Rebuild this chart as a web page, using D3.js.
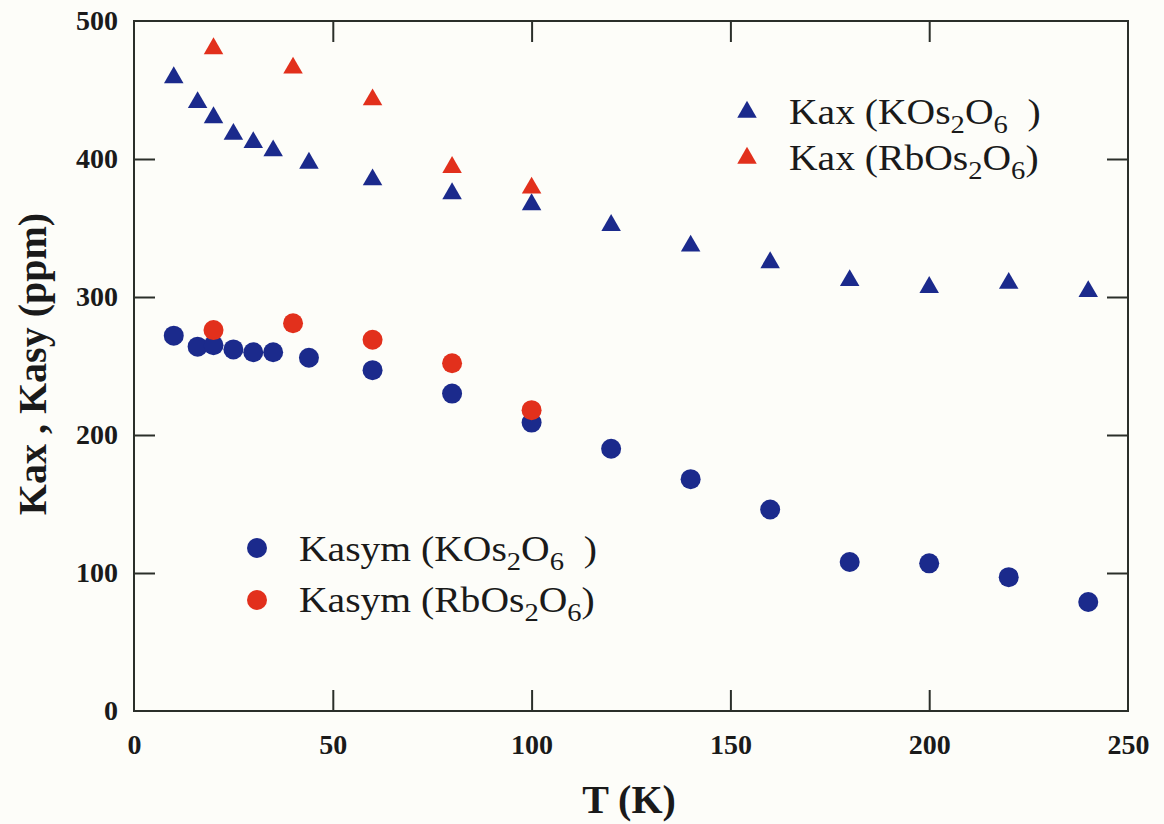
<!DOCTYPE html>
<html>
<head>
<meta charset="utf-8">
<script src="https://cdn.jsdelivr.net/npm/d3@7"></script>
<style>
  html, body { margin: 0; padding: 0; background: #fdfdf9; }
  svg { display: block; }
</style>
</head>
<body>
<svg id="chart" width="1164" height="824"></svg>
<script>
// Temperature points (K)
const tempK      = [10, 16, 20, 25, 30, 35, 44, 60, 80, 100, 120, 140, 160, 180, 200, 220, 240];
const kaxK       = [459, 441, 430, 418, 412, 406, 397, 385, 375, 367, 352, 337, 325, 312, 307, 310, 304];
const kasymK     = [272, 264, 265, 262, 260, 260, 256, 247, 230, 209, 190, 168, 146, 108, 107, 97, 79];

const tempRb     = [20, 40, 60, 80, 100];
const kaxRb      = [480, 466, 443, 394, 379];
const kasymRb    = [276, 281, 269, 252, 218];

const xTicks = [0, 50, 100, 150, 200, 250];
const yTicks = [0, 100, 200, 300, 400, 500];

const blue = "#1b2a8c";
const red  = "#e2301c";
const ink  = "#2b2f2a";

const svg = d3.select("#chart");
const mLeft = 134, mRight = 1128, mTop = 21, mBottom = 711;

const x = d3.scaleLinear().domain([0, 250]).range([mLeft, mRight]);
const y = d3.scaleLinear().domain([0, 500]).range([mBottom, mTop]);

const serif = "'Liberation Serif', 'Times New Roman', serif";

// Frame with inward ticks on all four sides
const tickLen = 21;
const axisStyle = g => {
  g.select(".domain").remove();
  g.selectAll(".tick line").attr("stroke", ink).attr("stroke-width", 2);
  g.selectAll(".tick text")
    .attr("fill", "#1a1a1a")
    .attr("font-family", serif)
    .attr("font-weight", "bold")
    .attr("font-size", 28);
};

svg.append("g")
  .attr("transform", `translate(0,${mBottom})`)
  .call(d3.axisBottom(x).tickValues(xTicks).tickSizeInner(-tickLen).tickSizeOuter(0).tickPadding(23))
  .call(axisStyle)
  .call(g => g.selectAll(".tick").filter(d => d === 0 || d === 250).select("line").remove());

svg.append("g")
  .attr("transform", `translate(0,${mTop})`)
  .call(d3.axisTop(x).tickValues(xTicks.filter(d => d > 0 && d < 250)).tickSizeInner(-tickLen).tickSizeOuter(0).tickFormat(""))
  .call(axisStyle);

svg.append("g")
  .attr("transform", `translate(${mLeft},0)`)
  .call(d3.axisLeft(y).tickValues(yTicks).tickSizeInner(-tickLen).tickSizeOuter(0).tickPadding(16))
  .call(axisStyle)
  .call(g => g.selectAll(".tick").filter(d => d === 0 || d === 500).select("line").remove());

svg.append("g")
  .attr("transform", `translate(${mRight},0)`)
  .call(d3.axisRight(y).tickValues(yTicks.filter(d => d > 0 && d < 500)).tickSizeInner(-tickLen).tickSizeOuter(0).tickFormat(""))
  .call(axisStyle);

svg.append("rect")
  .attr("x", mLeft).attr("y", mTop)
  .attr("width", mRight - mLeft).attr("height", mBottom - mTop)
  .attr("fill", "none").attr("stroke", ink).attr("stroke-width", 2);

// Axis titles
svg.append("text")
  .attr("x", 629).attr("y", 813)
  .attr("text-anchor", "middle")
  .attr("font-family", serif).attr("font-weight", "bold").attr("font-size", 40)
  .attr("fill", "#1a1a1a")
  .text("T (K)");

svg.append("text")
  .attr("transform", "translate(46,364) rotate(-90)")
  .attr("text-anchor", "middle")
  .attr("font-family", serif).attr("font-weight", "bold").attr("font-size", 40)
  .attr("fill", "#1a1a1a")
  .text("Kax , Kasy (ppm)");

// Markers
const tri = d3.symbol().type(d3.symbolTriangle).size(165);
const plot = svg.append("g");

function triangles(ts, vs, color) {
  plot.append("g").selectAll("path")
    .data(ts.map((t, i) => [t, vs[i]]))
    .join("path")
    .attr("d", tri)
    .attr("transform", d => `translate(${x(d[0])},${y(d[1])})`)
    .attr("fill", color);
}
function circles(ts, vs, color) {
  plot.append("g").selectAll("circle")
    .data(ts.map((t, i) => [t, vs[i]]))
    .join("circle")
    .attr("cx", d => x(d[0]))
    .attr("cy", d => y(d[1]))
    .attr("r", 10)
    .attr("fill", color);
}

circles(tempK, kasymK, blue);
circles(tempRb, kasymRb, red);
triangles(tempK, kaxK, blue);
triangles(tempRb, kaxRb, red);

// Legend labels with chemical-formula subscripts
const subDrop = 9;
function legendLabel(g, xPos, yPos, prefix, metal, pad) {
  const t = g.append("text")
    .attr("transform", `translate(${xPos},${yPos}) scale(1.1,1)`)
    .attr("font-family", serif).attr("font-size", 36)
    .attr("fill", "#1a1a1a")
    .style("white-space", "pre");
  t.append("tspan").text(`${prefix} (${metal}Os`);
  t.append("tspan").attr("font-size", 26).attr("dy", subDrop).text("2");
  t.append("tspan").attr("dy", -subDrop).text("O");
  t.append("tspan").attr("font-size", 26).attr("dy", subDrop).text("6");
  t.append("tspan").attr("dy", -subDrop).text(pad + ")");
}

const legend = svg.append("g");
const legendRows = [
  { sym: "tri",  color: blue, prefix: "Kax",   metal: "K",  pad: "  ", lx: 747, sy: 112, ty: 124 },
  { sym: "tri",  color: red,  prefix: "Kax",   metal: "Rb", pad: "",   lx: 747, sy: 158, ty: 170 },
  { sym: "circ", color: blue, prefix: "Kasym", metal: "K",  pad: "  ", lx: 257, sy: 548, ty: 561 },
  { sym: "circ", color: red,  prefix: "Kasym", metal: "Rb", pad: "",   lx: 257, sy: 600, ty: 612 }
];

legendRows.forEach(r => {
  if (r.sym === "tri") {
    legend.append("path").attr("d", tri).attr("transform", `translate(${r.lx},${r.sy})`).attr("fill", r.color);
  } else {
    legend.append("circle").attr("cx", r.lx).attr("cy", r.sy).attr("r", 10).attr("fill", r.color);
  }
  legendLabel(legend, r.lx + 42, r.ty, r.prefix, r.metal, r.pad);
});
</script>
</body>
</html>
